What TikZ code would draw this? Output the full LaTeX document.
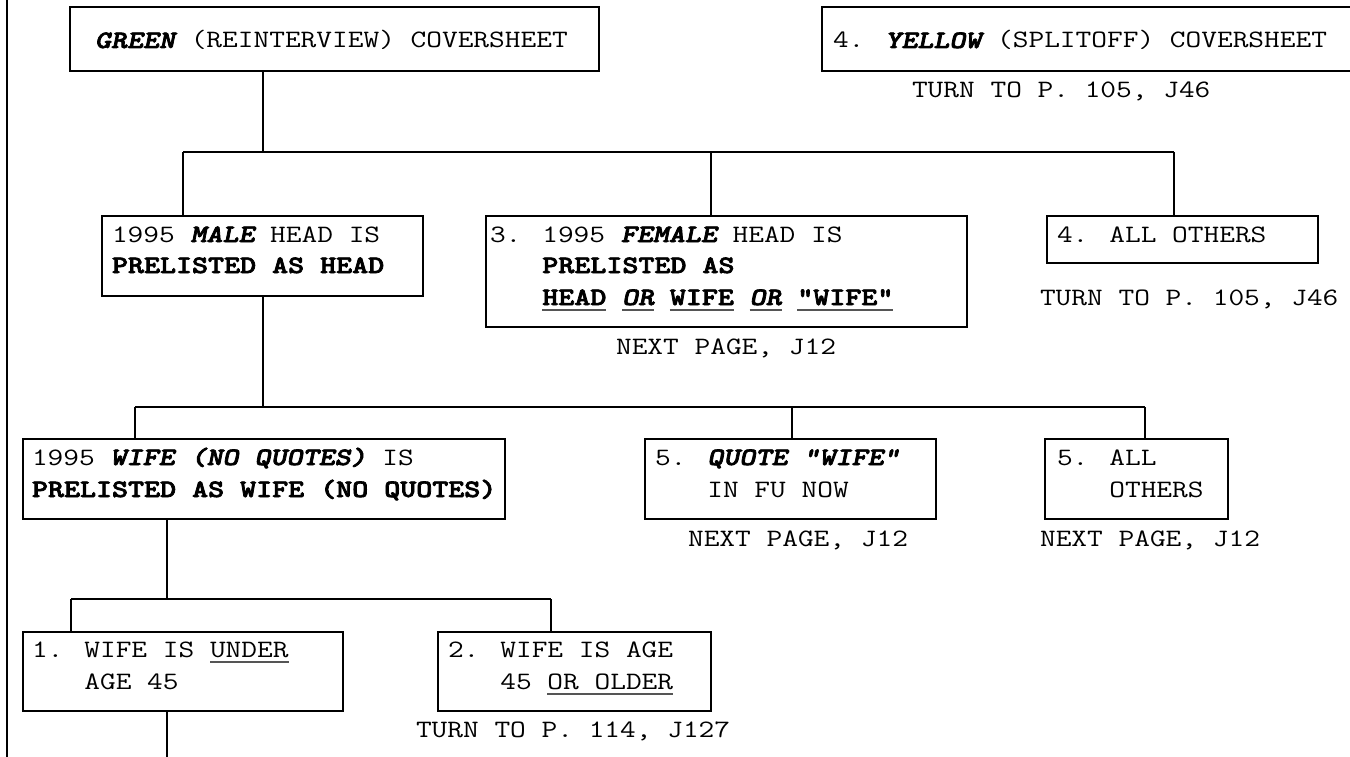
\documentclass[tikz,border=0pt]{standalone}
\usepackage{fontspec}
\usepackage{graphicx}
\newfontfamily\lmbold{lmmonolt10-bold.otf}[FakeBold=2.5]
\newfontfamily\lmboldit{lmmonolt10-boldoblique.otf}[FakeBold=2.5]
\definecolor{ulgray}{HTML}{555555}
\newcommand\myul[1]{\leavevmode\setbox0\hbox{#1}\rlap{\textcolor{ulgray}{\rule[-6pt]{\wd0}{1.8pt}}}\box0\relax}
\newcommand\bb[1]{{\lmbold #1}}
\newcommand\bi[1]{{\lmboldit #1}}
\newcommand\sx[1]{\scalebox{1.22}[1]{#1}}
\newcommand\dq{\char34\relax}
\begin{document}
\begin{tikzpicture}[x=1pt,y=-1pt,
  box/.style={draw, line width=1.2pt, inner sep=0pt, outer sep=0pt, anchor=north west},
  txt/.style={font=\ttfamily\fontsize{25}{32}\selectfont, inner sep=0pt, outer sep=0pt, anchor=base west},
  ctxt/.style={txt, anchor=base},
  conn/.style={line width=1.2pt}]
\path[use as bounding box, clip] (0,0) rectangle (1350,757);
\fill[white] (0,0) rectangle (1350,757);

% boxes
\node[box, minimum width=529pt, minimum height=64pt]  (green)     at (70,7) {};
\node[box, minimum width=540pt, minimum height=64pt]  (yellow)    at (822,7) {};
\node[box, minimum width=321pt, minimum height=80pt]  (male)      at (102,216) {};
\node[box, minimum width=481pt, minimum height=111pt] (female)    at (486,216) {};
\node[box, minimum width=271pt, minimum height=47pt]  (allothers) at (1047,216) {};
\node[box, minimum width=482pt, minimum height=80pt]  (wife)      at (23,439) {};
\node[box, minimum width=291pt, minimum height=80pt]  (quote)     at (645,439) {};
\node[box, minimum width=183pt, minimum height=80pt]  (allfive)   at (1045,439) {};
\node[box, minimum width=320pt, minimum height=79pt]  (under)     at (23,632) {};
\node[box, minimum width=273pt, minimum height=79pt]  (older)     at (438,632) {};

% texts
\node[txt] (green-t) at (95,48) {\sx{\bi{GREEN} (REINTERVIEW) COVERSHEET}};
\node[txt] (yellow-t) at (833,48) {\sx{4. \bi{YELLOW} (SPLITOFF) COVERSHEET}};
\node[txt] (yellow-n) at (912,98) {\sx{TURN TO P. 105, J46}};

\node[txt] (male-t1) at (112,242) {\sx{1995 \bi{MALE} HEAD IS}};
\node[txt] (male-t2) at (112,273) {\sx{\bb{PRELISTED AS HEAD}}};

\node[txt] (female-t1) at (490,242) {\sx{3. 1995 \bi{FEMALE} HEAD IS}};
\node[txt] (female-t2) at (490,273) {\sx{\phantom{3. }\bb{PRELISTED AS}}};
\node[txt] (female-t3) at (490,305) {\sx{\phantom{3. }\myul{\bb{HEAD}} \myul{\bi{OR}} \myul{\bb{WIFE}} \myul{\bi{OR}} \myul{\bb{\dq WIFE\dq}}}};
\node[ctxt] (female-n) at (726,354) {\sx{NEXT PAGE, J12}};

\node[txt] (allothers-t) at (1057,242) {\sx{4. ALL OTHERS}};
\node[txt] (allothers-n) at (1040,305) {\sx{TURN TO P. 105, J46}};

\node[txt] (wife-t1) at (32,465) {\sx{1995 \bi{WIFE (NO QUOTES)} IS}};
\node[txt] (wife-t2) at (32,497) {\sx{\bb{PRELISTED AS WIFE (NO QUOTES)}}};

\node[txt] (quote-t1) at (655,465) {\sx{5. \bi{QUOTE \dq WIFE\dq}}};
\node[txt] (quote-t2) at (655,497) {\sx{\phantom{5. }IN FU NOW}};
\node[ctxt] (quote-n) at (798,546) {\sx{NEXT PAGE, J12}};

\node[txt] (allfive-t1) at (1057,465) {\sx{5. ALL}};
\node[txt] (allfive-t2) at (1057,497) {\sx{\phantom{5. }OTHERS}};
\node[ctxt] (allfive-n) at (1150,546) {\sx{NEXT PAGE, J12}};

\node[txt] (under-t1) at (32,657) {\sx{1. WIFE IS \myul{UNDER}}};
\node[txt] (under-t2) at (32,689) {\sx{\phantom{1. }AGE 45}};

\node[txt] (older-t1) at (448,657) {\sx{2. WIFE IS AGE}};
\node[txt] (older-t2) at (448,689) {\sx{\phantom{2. }45 \myul{OR OLDER}}};
\node[txt] (older-n) at (416,737) {\sx{TURN TO P. 114, J127}};

% connectors
\coordinate (lt) at (7,0);
\coordinate (lb) at (7,757);
\draw[conn] (lt) -- (lb);

\coordinate (b1a) at (183,152);
\coordinate (b1b) at (1174,152);
\coordinate (b1g) at (263,152);
\coordinate (b1f) at (711,152);
\draw[conn] (b1a) -- (b1b);
\draw[conn] (green.south -| b1g) -- (b1g);
\draw[conn] (b1a) -- (b1a |- male.north);
\draw[conn] (b1f) -- (b1f |- female.north);
\draw[conn] (b1b) -- (b1b |- allothers.north);

\coordinate (b2a) at (135,407);
\coordinate (b2b) at (1145,407);
\coordinate (b2m) at (263,407);
\coordinate (b2q) at (792,407);
\draw[conn] (b2a) -- (b2b);
\draw[conn] (male.south -| b2m) -- (b2m);
\draw[conn] (b2a) -- (b2a |- wife.north);
\draw[conn] (b2q) -- (b2q |- quote.north);
\draw[conn] (b2b) -- (b2b |- allfive.north);

\coordinate (b3a) at (71,599);
\coordinate (b3b) at (551,599);
\coordinate (b3w) at (167,599);
\draw[conn] (b3a) -- (b3b);
\draw[conn] (wife.south -| b3w) -- (b3w);
\draw[conn] (b3a) -- (b3a |- under.north);
\draw[conn] (b3b) -- (b3b |- older.north);

\coordinate (endb) at (167,757);
\draw[conn] (under.south -| endb) -- (endb);
\end{tikzpicture}
\end{document}
